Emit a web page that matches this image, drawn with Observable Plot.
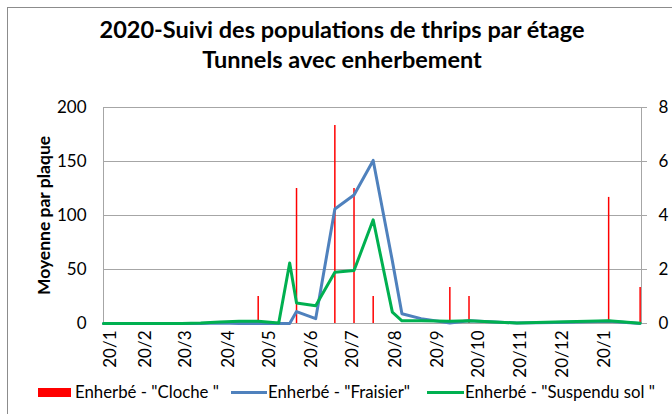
<!DOCTYPE html>
<html><head><meta charset="utf-8">
<script src="https://cdn.jsdelivr.net/npm/d3@7"></script>
<script src="https://cdn.jsdelivr.net/npm/@observablehq/plot@0.6"></script>
<style>
body{margin:0;background:#fff;}
#wrap{position:relative;width:672px;height:414px;overflow:hidden;font-family:Lato, sans-serif;color:#000;}
#border{position:absolute;left:7px;top:7px;width:700px;height:440px;border:1.5px solid #8c8c8c;box-sizing:border-box;}
#title{position:absolute;left:0;top:0;width:684px;height:90px;box-sizing:border-box;padding-top:13.5px;text-align:center;font-weight:bold;font-size:23.5px;line-height:30px;}
#chart{position:absolute;left:0;top:90px;}
#legend{position:absolute;left:0;top:375px;width:672px;height:39px;font-size:16.8px;}
.sw{position:absolute;}
.lt{position:absolute;top:7px;line-height:20px;white-space:nowrap;}
</style></head>
<body>
<div id="wrap">
  <div id="border"></div>
  <div id="title">2020-Suivi des populations de thrips par étage<br>Tunnels avec enherbement</div>
  <div id="chart"></div>
  <div id="legend">
    <div class="sw" style="left:38px;top:13px;width:33px;height:9px;background:#ff0000;"></div>
    <div class="lt" style="left:75px;">Enherbé - "Cloche "</div>
    <div class="sw" style="left:231px;top:16px;width:36px;height:3px;background:#4f81bd;"></div>
    <div class="lt" style="left:268px;">Enherbé - "Fraisier"</div>
    <div class="sw" style="left:427px;top:16px;width:37px;height:3px;background:#00b050;"></div>
    <div class="lt" style="left:465px;">Enherbé - "Suspendu sol "</div>
  </div>
</div>
<script>
const parse = d3.utcParse("%Y-%m-%d");

// Line series (left axis: Moyenne par plaque)
const lineDates = ["2020-01-20","2020-02-18","2020-03-17","2020-03-31","2020-04-14","2020-04-28","2020-05-12","2020-05-27","2020-06-04","2020-06-09","2020-06-23","2020-07-07","2020-07-21","2020-08-04","2020-08-18","2020-08-25","2020-09-08","2020-09-29","2020-10-13","2020-11-17","2020-12-15","2021-01-23","2021-02-15"];
const fraisier = [0,0,0,0,0.5,0,0,0,0,11,4.5,106,119,151,58,9,4.5,0.5,2.5,0.5,1,2,0];
const suspendu = [0,0,0,0.5,1.5,2,2,0.5,56,19,16.5,47.5,49,96,10.5,2.5,2.5,2,2.5,0.5,1.5,2.5,0.3];

// Column series (right axis)
const barDates = ["2020-05-12","2020-06-09","2020-07-07","2020-07-21","2020-08-04","2020-09-29","2020-10-13","2021-01-23","2021-02-15"];
const cloche = [1,5,7.33,5,1,1.33,1,4.67,1.33];

// Axis ticks
const tickDates = ["2020-01-20","2020-02-20","2020-03-20","2020-04-20","2020-05-20","2020-06-20","2020-07-20","2020-08-20","2020-09-20","2020-10-20","2020-11-20","2020-12-20","2021-01-20"];
const tickLabels = ["20/1","20/2","20/3","20/4","20/5","20/6","20/7","20/8","20/9","20/10","20/11","20/12","20/1"];
const leftTicks = [0,50,100,150,200];
const rightTicks = [0,2,4,6,8];

const RATIO = 200 / 8;
const lines = lineDates.map((d,i)=>({date:parse(d), fraisier:fraisier[i], suspendu:suspendu[i]}));
const bars = barDates.map((d,i)=>({date:parse(d), v:cloche[i]}));
const ticks = tickDates.map(parse);
const fmt = d => tickLabels[ticks.findIndex(t => +t === +d)];

const chart = Plot.plot({
  width:672, height:285, marginLeft:103, marginRight:31, marginTop:17, marginBottom:52,
  style:{fontFamily:"Lato, sans-serif", fontSize:"17px", color:"#000", background:"transparent", overflow:"visible"},
  x:{type:"utc", domain:[parse("2020-01-20"), parse("2021-02-16")]},
  y:{domain:[0,200]},
  marks:[
    Plot.ruleY(leftTicks.slice(1), {stroke:"#a6a6a6", strokeWidth:1}),
    Plot.frame({stroke:"#a6a6a6"}),
    Plot.axisY({ticks:leftTicks, tickSize:0, tickPadding:17, label:null}),
    Plot.axisY({anchor:"right", ticks:rightTicks.map(v=>v*RATIO), tickFormat:d=>d/RATIO, tickSize:5, stroke:"#a6a6a6", tickPadding:12, label:null}),
    Plot.axisX({ticks:ticks.slice(1), tickFormat:fmt, tickRotate:-90, tickSize:0, tickPadding:7, label:null}),
    Plot.axisX({ticks:[ticks[0]], tickFormat:fmt, tickRotate:-90, tickSize:0, tickPadding:7, dx:7, label:null}),
    Plot.ruleX(bars, {x:"date", y1:0, y2:d=>d.v*RATIO, stroke:"#ff0000", strokeWidth:1.5}),
    Plot.line(lines, {x:"date", y:"fraisier", stroke:"#4f81bd", strokeWidth:3}),
    Plot.line(lines, {x:"date", y:"suspendu", stroke:"#00b050", strokeWidth:3}),
    Plot.text(["Moyenne par plaque"], {frameAnchor:"left", textAnchor:"middle", dx:-59, rotate:-90, fontWeight:"bold", fontSize:17.5, fill:"#000"})
  ]
});
document.getElementById("chart").appendChild(chart);
</script>
</body></html>
